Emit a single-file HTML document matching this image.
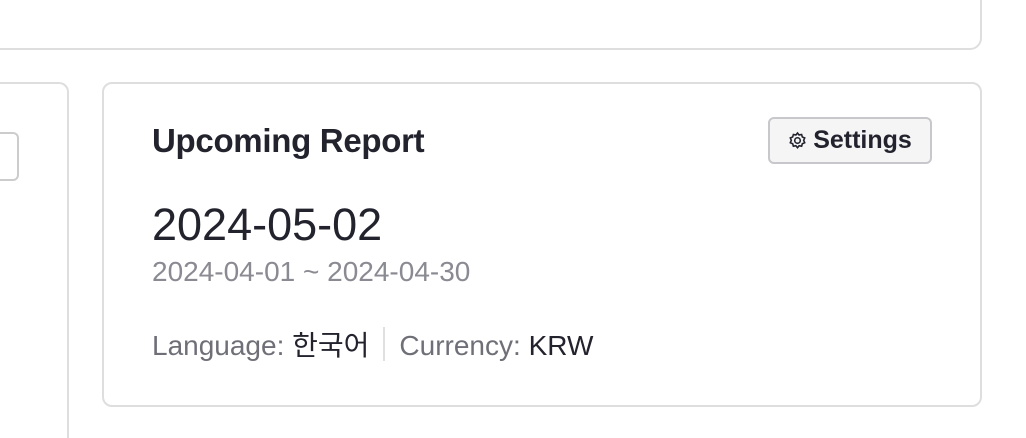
<!DOCTYPE html>
<html style="overflow:hidden;width:1026px;height:438px"><head><meta charset="utf-8"><style>
html,body{margin:0;width:1026px;height:438px;overflow:hidden}
body{background:#fff;position:relative;font-family:"Liberation Sans","Noto Sans CJK KR",sans-serif;color:#23232e}
.b{position:absolute;border:2px solid #dedede;box-sizing:border-box;background:#fff}
</style></head><body>
<div class="b" style="left:-20px;top:-40px;width:1002px;height:90px;border-radius:12px"></div>
<div style="position:absolute;left:-40px;top:82px;width:109px;height:356px;border:2px solid #dedede;border-bottom:none;box-sizing:border-box;border-radius:10px 10px 0 0"></div>
<div class="b" style="left:-30px;top:132px;width:49px;height:49px;border-radius:6px;border-color:#ccc"></div>
<div class="b" style="left:102px;top:82px;width:880px;height:325px;border-radius:10px">
 <div style="position:absolute;left:48px;top:38px;font-size:33px;font-weight:bold;letter-spacing:-0.3px">Upcoming Report</div>
 <div style="position:absolute;left:664px;top:33px;width:164px;height:47px;box-sizing:border-box;border:2px solid #c8c8cc;border-radius:6px;background:#f5f5f6;font-size:25px;font-weight:bold;display:flex;align-items:center;justify-content:center;gap:6px">
  <svg width="19" height="19" viewBox="0 0 24 24" fill="none" stroke="#23232e" stroke-width="2"><circle cx="12" cy="12" r="3.5"/><path d="M12 2.5l2 2.5 3.2-.6.9 3.1 3 1.3-1.3 3 1.3 3-3 1.3-.9 3.1-3.2-.6-2 2.5-2-2.5-3.2.6-.9-3.1-3-1.3 1.3-3-1.3-3 3-1.3.9-3.1 3.2.6z"/></svg>
  <span>Settings</span></div>
 <div style="position:absolute;left:48px;top:115px;font-size:45px">2024-05-02</div>
 <div style="position:absolute;left:48px;top:172px;font-size:28px;color:#8a8a92">2024-04-01 ~ 2024-04-30</div>
 <div style="position:absolute;left:48px;top:240px;font-size:28px;color:#6f6f78;white-space:nowrap">
  <span>Language: <span style="color:#23232e">한국어</span></span><span style="display:inline-block;width:2px;height:34px;background:#e0e0e0;margin:0 14px;vertical-align:-6px"></span><span>Currency: <span style="color:#23232e">KRW</span></span>
 </div>
</div>
</body></html>
